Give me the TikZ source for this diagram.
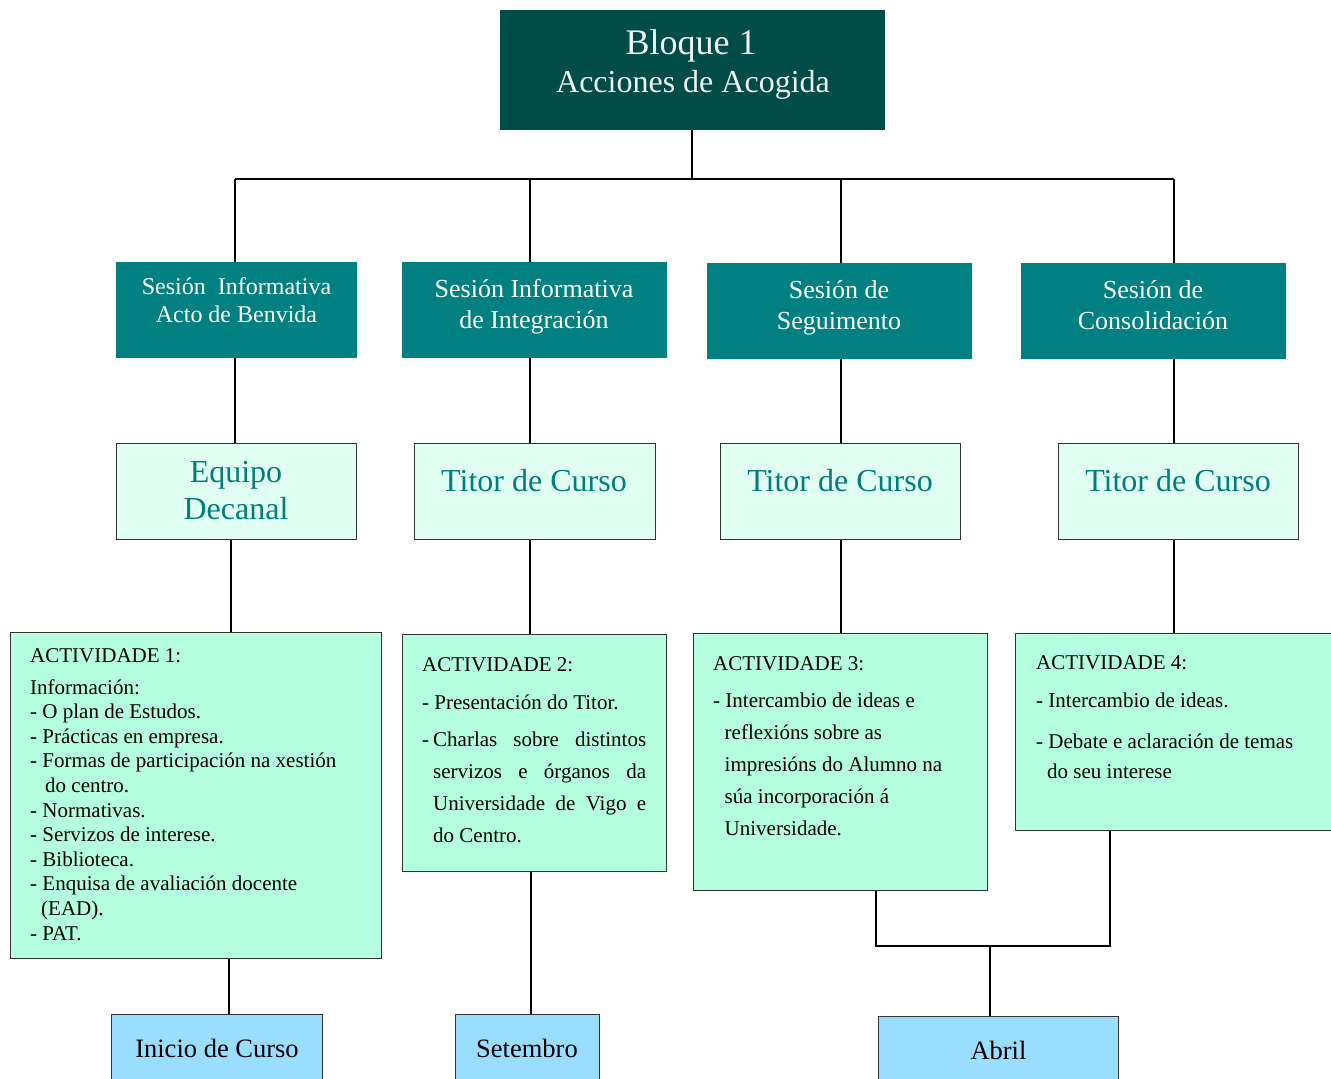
\documentclass[tikz,border=0pt]{standalone}
\usepackage{fontspec}
\setmainfont{Liberation Serif}
\definecolor{topc}{HTML}{004C47}
\definecolor{sessc}{HTML}{008080}
\definecolor{titfill}{HTML}{E0FFF2}
\definecolor{tittext}{HTML}{007F7A}
\definecolor{actfill}{HTML}{B3FFDF}
\definecolor{botfill}{HTML}{99DDFF}
\definecolor{bordc}{HTML}{333333}
\definecolor{lighttext}{HTML}{F2F2F2}
\tikzset{
  boxbase/.style={inner sep=0pt, anchor=north west},
  topbox/.style={boxbase, fill=topc},
  sessbox/.style={boxbase, fill=sessc},
  titbox/.style={boxbase, fill=titfill, draw=bordc, line width=1pt},
  actbox/.style={boxbase, fill=actfill, draw=bordc, line width=1.1pt},
  botbox/.style={boxbase, fill=botfill, draw=bordc, line width=1.1pt},
  conn/.style={line width=1.8pt, black},
  sesstxt/.style={inner sep=0pt, anchor=base, align=center, text=white},
  tittxt/.style={inner sep=0pt, anchor=base, align=center, text=tittext, font=\fontsize{32}{36.6}\selectfont},
  acttxt/.style={inner sep=0pt, anchor=base west, align=left, text=black},
  bottxt/.style={inner sep=0pt, anchor=base, text=black, font=\fontsize{26.5}{30}\selectfont},
}
\begin{document}
\begin{tikzpicture}[x=1pt,y=-1pt]
\useasboundingbox (0,0) rectangle (1331,1079);

% ---- boxes ----
\node[topbox, minimum width=385pt, minimum height=120pt] (top) at (500,10) {};
\node[sessbox, minimum width=241pt, minimum height=96pt] (s1) at (116,262) {};
\node[sessbox, minimum width=265pt, minimum height=96pt] (s2) at (402,262) {};
\node[sessbox, minimum width=265pt, minimum height=96pt] (s3) at (707,263) {};
\node[sessbox, minimum width=265pt, minimum height=96pt] (s4) at (1021,263) {};
\node[titbox, minimum width=240pt, minimum height=96pt] (t1) at (116,443) {};
\node[titbox, minimum width=241pt, minimum height=96pt] (t2) at (414,443) {};
\node[titbox, minimum width=240pt, minimum height=96pt] (t3) at (720,443) {};
\node[titbox, minimum width=240pt, minimum height=96pt] (t4) at (1058,443) {};
\node[actbox, minimum width=371pt, minimum height=326pt] (a1) at (10,632) {};
\node[actbox, minimum width=264pt, minimum height=237pt] (a2) at (402,634) {};
\node[actbox, minimum width=294pt, minimum height=257pt] (a3) at (693,633) {};
\node[actbox, minimum width=330pt, minimum height=197pt] (a4) at (1015,633) {};
\node[botbox, minimum width=211pt, minimum height=80pt] (b1) at (111,1014) {};
\node[botbox, minimum width=144pt, minimum height=80pt] (b2) at (455,1014) {};
\node[botbox, minimum width=240pt, minimum height=80pt] (b3) at (878,1016) {};

% ---- texts (multi-line nodes: base = last line) ----
\node[inner sep=0pt, anchor=base, text=lighttext, font=\fontsize{36}{41}\selectfont] (topl1) at (691,54) {Bloque 1};
\node[inner sep=0pt, anchor=base, text=lighttext, font=\fontsize{32}{41}\selectfont] (topl2) at (693,92) {Acciones de Acogida};

\node[sesstxt, font=\fontsize{24}{28}\selectfont] (s1t) at (236.5,322.3) {Sesión\ \ Informativa\\Acto de Benvida};
\node[sesstxt, font=\fontsize{26}{31}\selectfont] (s2t) at (534,328.3) {Sesión Informativa\\de Integración};
\node[sesstxt, font=\fontsize{26}{31}\selectfont] (s3t) at (839,329.3) {Sesión de\\Seguimento};
\node[sesstxt, font=\fontsize{26}{31}\selectfont] (s4t) at (1153,329.3) {Sesión de\\Consolidación};

\node[tittxt] (t1t) at (236,519.3) {Equipo\\Decanal};
\node[tittxt] (t2t) at (534,491) {Titor de Curso};
\node[tittxt] (t3t) at (840,491) {Titor de Curso};
\node[tittxt] (t4t) at (1178,491) {Titor de Curso};

\node[acttxt, font=\fontsize{21}{24.6}\selectfont] (a1t) at (30,940) {%
ACTIVIDADE 1:\\[7.4pt]%
Información:\\
- O plan de Estudos.\\
- Prácticas en empresa.\\
- Formas de participación na xestión\\
\hspace*{15pt}do centro.\\
- Normativas.\\
- Servizos de interese.\\
- Biblioteca.\\
- Enquisa de avaliación docente\\
\hspace*{11pt}(EAD).\\
- PAT.};

\node[acttxt, font=\fontsize{21}{31.9}\selectfont] (a2t) at (422,842.3) {%
ACTIVIDADE 2:\\[5.7pt]%
- Presentación do Titor.\\[5.5pt]%
\makebox[11pt][l]{-}\makebox[213pt][s]{Charlas sobre distintos}\\
\hspace*{11pt}\makebox[213pt][s]{servizos e órganos da}\\
\hspace*{11pt}\makebox[213pt][s]{Universidade de Vigo e}\\
\hspace*{11pt}do Centro.};

\node[acttxt, font=\fontsize{21}{31.9}\selectfont] (a3t) at (713,835) {%
ACTIVIDADE 3:\\[4.7pt]%
- Intercambio de ideas e\\
\hspace*{11.5pt}reflexións sobre as\\
\hspace*{11.5pt}impresións do Alumno na\\
\hspace*{11.5pt}súa incorporación á\\
\hspace*{11.5pt}Universidade.};

\node[acttxt, font=\fontsize{21}{30}\selectfont] (a4t) at (1036,778.3) {%
ACTIVIDADE 4:\\[8pt]%
- Intercambio de ideas.\\[11pt]%
- Debate e aclaración de temas\\
\hspace*{11pt}do seu interese};

\node[bottxt] (b1t) at (217,1057) {Inicio de Curso};
\node[bottxt] (b2t) at (527,1057) {Setembro};
\node[bottxt] (b3t) at (998.5,1059) {Abril};

% ---- connector coordinates ----
\coordinate (bus) at (0,179);
\coordinate (c0) at (692,0);
\coordinate (c1) at (235,0);
\coordinate (c2) at (530,0);
\coordinate (c3) at (841,0);
\coordinate (c4) at (1174,0);
\coordinate (d1) at (231,0);
\coordinate (e1) at (229,0);
\coordinate (e2) at (531,0);
\coordinate (f3) at (876,0);
\coordinate (f4) at (1110,0);
\coordinate (fj) at (0,946);
\coordinate (fa) at (990,0);

% ---- connectors ----
\draw[conn] (c0 |- top.south) -- (c0 |- bus);
\draw[conn] (c1 |- bus) -- (c4 |- bus);
\draw[conn] (c1 |- bus) -- (c1 |- s1.north);
\draw[conn] (c2 |- bus) -- (c2 |- s2.north);
\draw[conn] (c3 |- bus) -- (c3 |- s3.north);
\draw[conn] (c4 |- bus) -- (c4 |- s4.north);
\draw[conn] (c1 |- s1.south) -- (c1 |- t1.north);
\draw[conn] (c2 |- s2.south) -- (c2 |- t2.north);
\draw[conn] (c3 |- s3.south) -- (c3 |- t3.north);
\draw[conn] (c4 |- s4.south) -- (c4 |- t4.north);
\draw[conn] (d1 |- t1.south) -- (d1 |- a1.north);
\draw[conn] (c2 |- t2.south) -- (c2 |- a2.north);
\draw[conn] (c3 |- t3.south) -- (c3 |- a3.north);
\draw[conn] (c4 |- t4.south) -- (c4 |- a4.north);
\draw[conn] (e1 |- a1.south) -- (e1 |- b1.north);
\draw[conn] (e2 |- a2.south) -- (e2 |- b2.north);
\draw[conn] (f3 |- a3.south) -- (f3 |- fj) -- (f4 |- fj) -- (f4 |- a4.south);
\draw[conn] (fa |- fj) -- (fa |- b3.north);
\end{tikzpicture}
\end{document}
